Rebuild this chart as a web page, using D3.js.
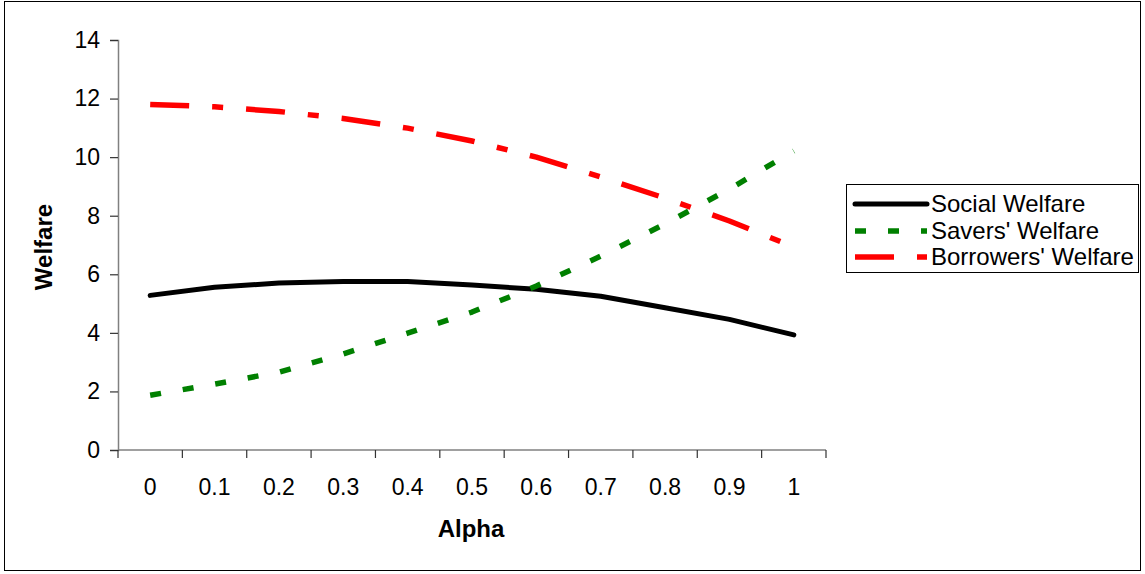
<!DOCTYPE html>
<html>
<head>
<meta charset="utf-8">
<script src="https://cdn.jsdelivr.net/npm/d3@7"></script>
<style>
  html, body { margin: 0; padding: 0; background: #fff; }
  svg { display: block; font-family: "Liberation Sans", Arial, sans-serif; }
</style>
</head>
<body>
<svg id="chart" width="1145" height="574"></svg>
<script>
const categories = ["0", "0.1", "0.2", "0.3", "0.4", "0.5", "0.6", "0.7", "0.8", "0.9", "1"];
const socialWelfare = [5.28, 5.56, 5.70, 5.75, 5.75, 5.63, 5.49, 5.25, 4.86, 4.46, 3.93];
const saversWelfare = [1.87, 2.25, 2.66, 3.28, 3.99, 4.71, 5.60, 6.62, 7.72, 8.91, 10.21];
const borrowersWelfare = [11.80, 11.72, 11.56, 11.32, 10.99, 10.55, 10.00, 9.32, 8.60, 7.82, 6.93];
const yTicks = [0, 2, 4, 6, 8, 10, 12, 14];
const seriesNames = ["Social Welfare", "Savers' Welfare", "Borrowers' Welfare"];

const series = [
  { name: seriesNames[0], values: socialWelfare, color: "#000000", dash: null, width: 5 },
  { name: seriesNames[1], values: saversWelfare, color: "#008000", dash: "11,22", width: 5.5 },
  { name: seriesNames[2], values: borrowersWelfare, color: "#ff0000", dash: "39,23,11,23", width: 5.5 }
];

const svg = d3.select("#chart");

// outer frame
svg.append("rect").attr("x", 4.5).attr("y", 1.5).attr("width", 1136).attr("height", 569)
  .attr("fill", "none").attr("stroke", "#000").attr("stroke-width", 1);

const plot = { left: 118, right: 826, top: 40, bottom: 450 };

const x = d3.scaleBand().domain(categories).range([plot.left, plot.right]).padding(0);
const y = d3.scaleLinear().domain([0, 14]).range([plot.bottom, plot.top]);

// Y axis
const yAxis = d3.axisLeft(y).tickValues(yTicks).tickSize(8).tickPadding(10).tickFormat(d3.format("d"));
const gy = svg.append("g").attr("transform", `translate(${plot.left},0)`).call(yAxis);
gy.select(".domain").attr("stroke", "#808080").attr("stroke-width", 1.5);
gy.selectAll(".tick line").attr("stroke", "#333").attr("stroke-width", 1.2);
gy.selectAll(".tick text").attr("font-size", 23).attr("fill", "#000")
  .attr("font-family", "Liberation Sans, Arial, sans-serif");

// X axis: ticks at band boundaries, labels at band centres
const gx = svg.append("g").attr("transform", `translate(0,${plot.bottom})`);
gx.append("line").attr("x1", plot.left).attr("x2", plot.right).attr("y1", 0).attr("y2", 0)
  .attr("stroke", "#808080").attr("stroke-width", 1.5);
const boundaries = categories.map(c => x(c)).concat([x(categories[categories.length - 1]) + x.bandwidth()]);
gx.selectAll("line.bt").data(boundaries).enter().append("line").attr("class", "bt")
  .attr("x1", d => d).attr("x2", d => d).attr("y1", 0).attr("y2", 8)
  .attr("stroke", "#333").attr("stroke-width", 1.2);
gx.selectAll("text.lbl").data(categories).enter().append("text").attr("class", "lbl")
  .attr("x", d => x(d) + x.bandwidth() / 2).attr("y", 45)
  .attr("text-anchor", "middle").attr("font-size", 23).attr("fill", "#000")
  .text(d => d);

// Axis titles
svg.append("text").attr("x", 471).attr("y", 537).attr("text-anchor", "middle")
  .attr("font-size", 24).attr("font-weight", "bold").text("Alpha");
svg.append("text").attr("transform", "translate(52,247) rotate(-90)").attr("text-anchor", "middle")
  .attr("font-size", 24).attr("font-weight", "bold").text("Welfare");

// Lines (straight segments between category points)
const line = d3.line()
  .x((d, i) => x(categories[i]) + x.bandwidth() / 2)
  .y(d => y(d))
  .curve(d3.curveLinear);

series.forEach(s => {
  svg.append("path").datum(s.values)
    .attr("d", line)
    .attr("fill", "none")
    .attr("stroke", s.color)
    .attr("stroke-width", s.width)
    .attr("stroke-linejoin", "round")
    .attr("stroke-linecap", s.dash ? "butt" : "round")
    .attr("stroke-dasharray", s.dash);
});

// Legend
const lg = svg.append("g");
lg.append("rect").attr("x", 846.5).attr("y", 184.5).attr("width", 292).attr("height", 88)
  .attr("fill", "#fff").attr("stroke", "#000").attr("stroke-width", 1);
const rowY = [204, 231, 257];
series.forEach((s, i) => {
  lg.append("line").attr("x1", 855).attr("x2", 927).attr("y1", rowY[i]).attr("y2", rowY[i])
    .attr("stroke", s.color).attr("stroke-width", s.width)
    .attr("stroke-linecap", s.dash ? "butt" : "round")
    .attr("stroke-dasharray", s.dash);
  lg.append("text").attr("x", 931).attr("y", rowY[i]).attr("dy", "0.35em")
    .attr("font-size", 24).attr("fill", "#000").text(s.name);
});
</script>
</body>
</html>
